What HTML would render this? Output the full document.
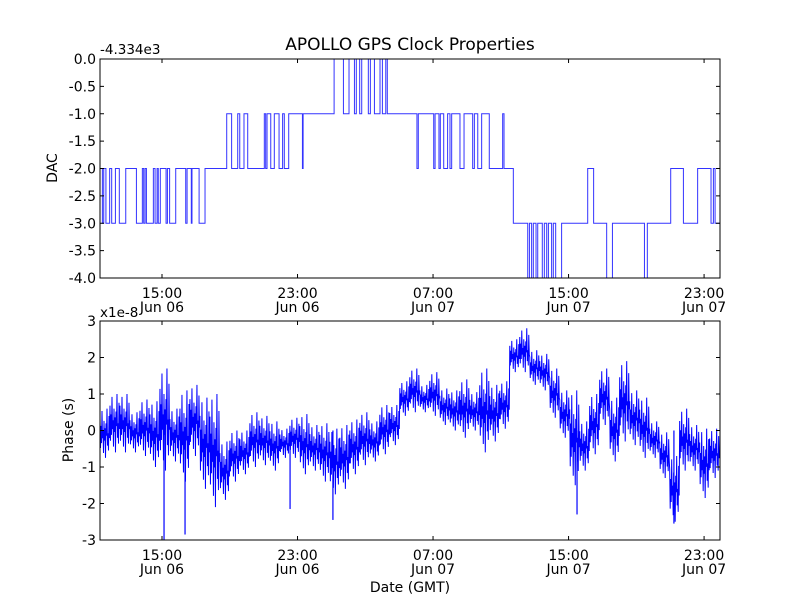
<!DOCTYPE html>
<html><head><meta charset="utf-8"><style>
body{margin:0;background:#fff;}
svg text{font-family:"DejaVu Sans","Liberation Sans",sans-serif;fill:#000;}
</style></head><body>
<svg id="chart" width="800" height="600" xmlns="http://www.w3.org/2000/svg">
<rect width="800" height="600" fill="#fff"/>
<text x="410" y="50" font-size="17" text-anchor="middle">APOLLO GPS Clock Properties</text>
<text x="100" y="54" font-size="13.5">-4.334e3</text>
<text x="100" y="317" font-size="13.5">x1e-8</text>
<text transform="translate(57,168) rotate(-90)" font-size="14" text-anchor="middle">DAC</text>
<text transform="translate(73,430) rotate(-90)" font-size="14" text-anchor="middle">Phase (s)</text>
<text x="410" y="592" font-size="14" text-anchor="middle">Date (GMT)</text>
<g id="top"></g><g id="bot"></g>
</svg>
<script>
// ---- data (time in hours since Jun 06 00:00 GMT) ----
const dacTimes=[11.34,11.40,11.48,11.56,11.69,11.91,12.03,12.25,12.48,12.86,13.49,13.84,13.92,14.00,14.08,14.49,14.59,14.71,14.78,14.90,15.24,15.32,15.45,15.81,16.40,16.48,16.73,16.77,17.19,17.54,18.82,19.11,19.47,19.59,19.84,20.06,21.04,21.12,21.20,21.42,21.63,21.91,22.12,22.22,22.48,23.29,23.33,25.16,25.71,26.04,26.36,26.47,26.67,26.79,27.18,27.30,27.54,27.87,28.01,28.21,28.30,30.05,30.13,31.04,31.12,31.35,31.43,31.63,31.86,32.00,32.10,32.59,32.83,33.34,33.44,33.64,33.87,34.32,35.11,35.19,35.74,36.59,36.69,36.82,36.92,37.08,37.18,37.45,37.57,37.71,37.81,38.00,38.10,38.24,38.59,40.13,40.48,41.25,41.59,43.48,43.65,45.03,45.78,46.62,47.41,47.55,47.65];
const dacValues=[-2,-2,-3,-2,-3,-2,-3,-2,-3,-2,-3,-2,-3,-2,-3,-2,-3,-2,-3,-2,-3,-2,-3,-2,-3,-2,-3,-2,-3,-2,-1,-2,-1,-2,-1,-2,-1,-2,-1,-2,-1,-2,-1,-2,-1,-2,-1,0,-1,0,-1,0,-1,0,-1,0,-1,0,-1,0,-1,-2,-1,-2,-1,-2,-1,-2,-1,-2,-1,-2,-1,-2,-1,-2,-1,-2,-1,-2,-3,-4,-3,-4,-3,-4,-3,-4,-3,-4,-3,-4,-3,-4,-3,-2,-3,-4,-3,-4,-3,-2,-3,-2,-3,-2,-3];
const tStart=11.34, tEnd=47.94, phaseBinHours=0.59;
const phaseHi=[0.6,1.0,1.0,0.5,0.85,0.8,1.7,0.6,1.1,1.25,0.9,1.0,-0.3,0,0,0.5,0.4,0.25,0.05,0.35,0.45,0.15,0.2,0.05,0.15,0.3,0.5,0.25,0.7,0.7,1.35,1.7,1.25,1.6,1.15,1.1,1.4,1.05,1.7,1.25,1.35,2.5,2.8,2.2,2.1,1.7,1.1,1.1,0.25,1.0,1.7,0.9,1.9,1.1,0.9,0.25,-0.05,-0.7,0.6,0.15,0.05,0.05];
const phaseLo=[-0.75,-0.6,-0.6,-0.6,-0.7,-1.0,-1.1,-0.85,-1.4,-0.7,-1.6,-2.1,-1.9,-1.4,-1.2,-1.0,-0.95,-1.1,-0.75,-0.75,-1.2,-1.1,-1.4,-1.75,-1.6,-1.2,-0.95,-0.85,-0.65,-0.4,0.4,0.5,0.5,0.4,0.15,0,-0.2,0,-0.6,-0.3,0.05,1.6,1.6,1.25,1.1,0.35,-0.2,-1.5,-1.1,-0.65,0.15,-0.85,-0.3,-0.4,-0.75,-0.75,-1.3,-2.5,-1.1,-1.1,-1.85,-1.3];
const spikeTimes=[15.12,16.36,22.56,25.09,39.50,45.22];
const spikeValues=[-3.0,-2.85,-2.15,-2.45,-2.3,-2.55];
const dacTicks=[0,-0.5,-1,-1.5,-2,-2.5,-3,-3.5,-4];
const dacTickLabels=["0.0","-0.5","-1.0","-1.5","-2.0","-2.5","-3.0","-3.5","-4.0"];
const phaseTicks=[3,2,1,0,-1,-2,-3];
const phaseTickLabels=["3","2","1","0","-1","-2","-3"];
const timeTicks=[15,23,31,39,47];
const timeLabels=["15:00","23:00","07:00","15:00","23:00"];
const dateLabels=["Jun 06","Jun 06","Jun 07","Jun 07","Jun 07"];

const NS="http://www.w3.org/2000/svg";
const L=100,R=720;
const xs=t=>L+(t-tStart)/(tEnd-tStart)*(R-L);
function mk(p,tag,a){const e=document.createElementNS(NS,tag);for(const k in a)e.setAttribute(k,a[k]);p.appendChild(e);return e;}
function axes(g,top,bot,ys,ticks,labels,name){
  const fr=mk(g,'rect',{x:L,y:top,width:R-L,height:bot-top,fill:'none',stroke:'#000','stroke-width':1});
  
  
  ticks.forEach((v,i)=>{const y=ys(v);
    mk(g,'line',{x1:L,x2:L+4,y1:y,y2:y,stroke:'#000'});
    mk(g,'line',{x1:R,x2:R-4,y1:y,y2:y,stroke:'#000'});
    const t=mk(g,'text',{x:L-4,y:y+5,'font-size':14,'text-anchor':'end'});t.textContent=labels[i];
    
    
  });
  timeTicks.forEach((tt,i)=>{const x=xs(tt);
    mk(g,'line',{x1:x,x2:x,y1:bot,y2:bot-4,stroke:'#000'});
    mk(g,'line',{x1:x,x2:x,y1:top,y2:top+4,stroke:'#000'});
    const a=mk(g,'text',{x:x,y:bot+20,'font-size':14,'text-anchor':'middle'});a.textContent=timeLabels[i];
    
    
    const b=mk(g,'text',{x:x,y:bot+34,'font-size':14,'text-anchor':'middle'});b.textContent=dateLabels[i];
    
    
  });
}
// top DAC
const gt=document.getElementById('top');
const yT=v=>59+(0-v)/4*(278-59);
let d='';
dacTimes.forEach((t,i)=>{const x=xs(t),y=yT(dacValues[i]);
  if(i===0)d+='M'+x+','+y;else d+='H'+x+'V'+y;});
d+='H'+R;
const dl=mk(gt,'path',{d:d,fill:'none',stroke:'#3333ff','stroke-width':1});


axes(gt,59,278,yT,dacTicks,dacTickLabels,'dac');
// bottom phase
const gb=document.getElementById('bot');
const yB=v=>430.5-v*36.5;
const pat=[0.8,0.2,0.65,0.3,0.95,0.4,0.55,0.1,0.75,0.35,0.6,0.0,0.7,0.45,1.0,0.25,0.5,0.15,0.85,0.4];
let p='';
phaseHi.forEach((hi,i)=>{const lo=phaseLo[i];
  for(let k=0;k<pat.length;k++){
    const t=tStart+(i+k/pat.length)*phaseBinHours;
    const x=xs(t),y=yB(lo+(hi-lo)*pat[k]);
    p+=(p?'L':'M')+x.toFixed(2)+','+y.toFixed(2);
  }});
const pl=mk(gb,'path',{d:p,fill:'none',stroke:'#0000ff','stroke-width':1});


spikeTimes.forEach((t,i)=>{
  const s=mk(gb,'line',{x1:xs(t),x2:xs(t),y1:yB(0),y2:Math.min(540,yB(spikeValues[i])),stroke:'#0000ff','stroke-width':1.2});
  
  
});
axes(gb,321,540,yB,phaseTicks,phaseTickLabels,'phase');
</script>
</body></html>
